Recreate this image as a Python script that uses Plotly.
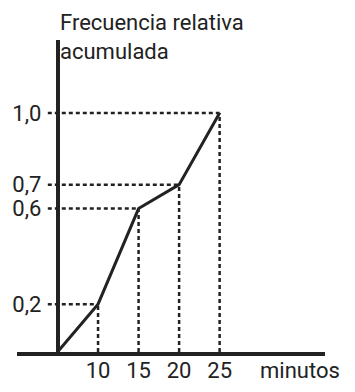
import plotly.graph_objects as go

minutes = [5, 10, 15, 20, 25]
cum_freq = [0, 0.2, 0.6, 0.7, 1.0]
x_ticks = [10, 15, 20, 25]
y_ticks = [0.2, 0.6, 0.7, 1.0]
y_tick_text = ["0,2", "0,6", "0,7", "1,0"]

ink = "#222222"
font = dict(family="Roboto", size=22, color=ink)

fig = go.Figure()

shapes = []
for xv, yv in zip(minutes[1:], cum_freq[1:]):
    shapes.append(dict(type="line", xref="x", yref="y", x0=minutes[0] - 1.2, x1=xv, y0=yv, y1=yv,
                       line=dict(color=ink, width=2.5, dash="4px,3px")))
    shapes.append(dict(type="line", xref="x", yref="y", x0=xv, x1=xv, y0=0, y1=yv,
                       line=dict(color=ink, width=2.5, dash="4px,3px")))

fig.add_trace(go.Scatter(x=minutes, y=cum_freq, mode="lines",
                         line=dict(color=ink, width=3), hoverinfo="skip"))

fig.update_layout(
    width=355, height=392,
    margin=dict(l=17, r=30, t=40, b=40),
    paper_bgcolor="white", plot_bgcolor="white",
    showlegend=False,
    font=font,
    shapes=shapes,
    xaxis=dict(range=[0, 38], showgrid=False, zeroline=False, automargin=False,
               showline=True, linecolor=ink, linewidth=3.5,
               tickvals=x_ticks, ticks="", ticklabelstandoff=-4, tickfont=font),
    yaxis=dict(range=[0, 1.305], showgrid=False, zeroline=False, automargin=False,
               anchor="free", position=(5 - 0) / 38,
               showline=True, linecolor=ink, linewidth=3.5,
               tickvals=y_ticks, ticktext=y_tick_text,
               ticks="outside", ticklen=10, tickcolor="rgba(0,0,0,0)",
               tickfont=font),
    annotations=[
        dict(text="Frecuencia relativa<br>acumulada", xref="paper", yref="paper",
             x=(5 - 0) / 38, y=1, xshift=0, yshift=32, xanchor="left", yanchor="top",
             align="left", showarrow=False, font=font),
        dict(text="minutos", xref="paper", yref="paper", x=1, y=0, xanchor="right",
             yanchor="top", xshift=17, yshift=-4, showarrow=False, font=font),
    ],
)

fig.write_html("out.html")
